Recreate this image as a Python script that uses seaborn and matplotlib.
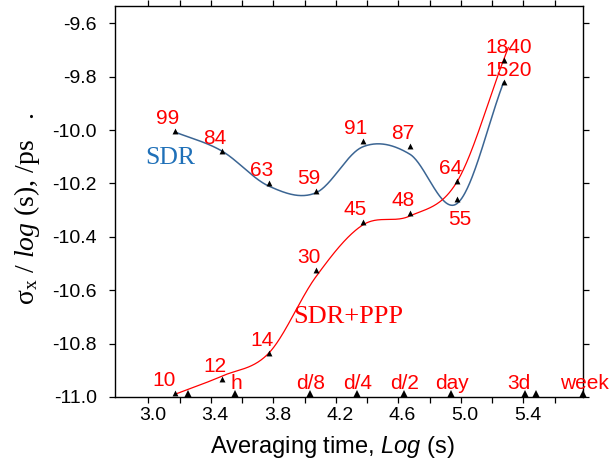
import numpy as np
import pandas as pd
import matplotlib
matplotlib.use("Agg")
import matplotlib.pyplot as plt
import matplotlib.transforms as mtransforms
from matplotlib.ticker import FixedLocator
import seaborn as sns

# ---------------- data ----------------
log_tau = [3.17, 3.47, 3.772, 4.072, 4.371, 4.673, 4.976, 5.274]
# marker (measured) values
sdr_y = [-10.004, -10.078, -10.198, -10.228, -10.040, -10.059, -10.259, -9.820]
ppp_y = [-10.986, -10.931, -10.835, -10.526, -10.344, -10.312, -10.191, -9.736]
# values of the drawn smooth curves at the same averaging times
sdr_curve_y = [-10.007, -10.078, -10.210, -10.235, -10.063, -10.090, -10.275, -9.820]
ppp_curve_y = [-10.990, -10.922, -10.835, -10.550, -10.356, -10.322, -10.193, -9.736]
sdr_n = ["99", "84", "63", "59", "91", "87", "55", "1520"]
ppp_n = ["10", "12", "14", "30", "45", "48", "64", "1840"]
mark_seconds = [1800, 3600, 10800, 21600, 43200, 86400, 259200, 302400, 604800]
mark_labels = ["", "h", "d/8", "d/4", "d/2", "day", "3d", "", "week"]
x_major = [3.0, 3.4, 3.8, 4.2, 4.6, 5.0, 5.4]
x_minor = [3.2, 3.6, 4.0, 4.4, 4.8, 5.2, 5.6]
y_ticks = [-11.0, -10.8, -10.6, -10.4, -10.2, -10.0, -9.8, -9.6]


def catmull_rom(x, y, extend=0.0, n=60):
    """Smooth Hermite curve through the knots (central-difference tangents)."""
    x = np.asarray(x, float)
    y = np.asarray(y, float)
    k = len(x)
    m = np.zeros(k)
    m[0] = (y[1] - y[0]) / (x[1] - x[0])
    m[-1] = (y[-1] - y[-2]) / (x[-1] - x[-2])
    for i in range(1, k - 1):
        m[i] = (y[i + 1] - y[i - 1]) / (x[i + 1] - x[i - 1])
    xs_all, ys_all = [], []
    for i in range(k - 1):
        h = x[i + 1] - x[i]
        t = np.linspace(0, 1, n, endpoint=(i == k - 2))
        h00 = 2 * t ** 3 - 3 * t ** 2 + 1
        h10 = t ** 3 - 2 * t ** 2 + t
        h01 = -2 * t ** 3 + 3 * t ** 2
        h11 = t ** 3 - t ** 2
        xs_all.append(x[i] + t * h)
        ys_all.append(h00 * y[i] + h10 * h * m[i] + h01 * y[i + 1] + h11 * h * m[i + 1])
    xs = np.concatenate(xs_all)
    ys = np.concatenate(ys_all)
    if extend > 0:
        xs = np.append(xs, x[-1] + extend)
        ys = np.append(ys, y[-1] + m[-1] * extend)
    return xs, ys


sns.set_style("ticks")
plt.rcParams["font.family"] = ["Liberation Sans", "DejaVu Sans"]
plt.rcParams["text.color"] = "black"
plt.rcParams["axes.labelcolor"] = "black"
plt.rcParams["xtick.color"] = "black"
plt.rcParams["ytick.color"] = "black"
plt.rcParams["mathtext.fontset"] = "custom"
plt.rcParams["mathtext.rm"] = "Liberation Serif"
plt.rcParams["mathtext.it"] = "Liberation Serif:italic"
plt.rcParams["mathtext.sf"] = "Liberation Sans:italic"

fig = plt.figure(figsize=(6.09, 4.65), dpi=100)
ax = fig.add_axes([115 / 609, 1 - 397 / 465, (583 - 115) / 609, (397 - 6) / 465])

BLUE = "#3b6593"
RED = "#ff0000"

sx, sy = catmull_rom(log_tau, sdr_curve_y)
px, py = catmull_rom(log_tau, ppp_curve_y, extend=0.03)
sns.lineplot(x=sx, y=sy, ax=ax, color=BLUE, linewidth=1.1, sort=False, zorder=2)
sns.lineplot(x=px, y=py, ax=ax, color=RED, linewidth=0.9, sort=False, zorder=2)

sns.scatterplot(x=log_tau, y=sdr_y, ax=ax, marker="^", color="black", s=18,
                linewidth=0, zorder=4)
sns.scatterplot(x=log_tau, y=ppp_y, ax=ax, marker="^", color="black", s=18,
                linewidth=0, zorder=4)

# triangles standing on the time axis (lifted so their base sits on the axis)
mark_x = list(np.log10(mark_seconds))
lift = mtransforms.ScaledTranslation(0, 2.6 / 100, fig.dpi_scale_trans)
ax.plot(mark_x, [-11.0] * len(mark_x), linestyle="none", marker="^",
        markersize=5.2, color="black", markeredgewidth=0, zorder=5,
        clip_on=False, transform=ax.transData + lift)

lab_kw = dict(color=RED, fontsize=15, ha="center", va="center",
              textcoords="offset points", annotation_clip=False)
for xv, yv, t in zip(log_tau, sdr_y, sdr_n):
    if t == "55":
        off = (2, -14.5)
    elif t == "1520":
        off = (3.6, 8.5)
    else:
        off = (-5, 9)
    ax.annotate(t, (xv, yv), xytext=off, **lab_kw)
for xv, yv, t in zip(log_tau, ppp_y, ppp_n):
    if t == "10":
        off = (-8, 9)
    elif t == "1840":
        off = (3.6, 9)
    else:
        off = (-5, 9)
    ax.annotate(t, (xv, yv), xytext=off, **lab_kw)

for xv, t in zip(mark_x, mark_labels):
    if not t:
        continue
    dxo = -4.5 if t == "3d" else (1.2 if t == "week" else 0.5)
    ax.annotate(t, (xv, -11.0), xytext=(dxo, 6), color=RED, fontsize=15,
                ha="center", va="baseline", textcoords="offset points",
                annotation_clip=False)

ax.text(3.141, -10.105, "SDR", color="#1f70b8", fontsize=18.5,
        family="Liberation Serif", ha="center", va="center")
ax.text(4.277, -10.699, "SDR+PPP", color=RED, fontsize=19,
        family="Liberation Serif", ha="center", va="center")

ax.set_xlim(2.787, np.log10(604800))
ax.set_ylim(-11.0, -9.535)
ax.xaxis.set_major_locator(FixedLocator(x_major))
ax.xaxis.set_minor_locator(FixedLocator(x_minor))
ax.set_xticklabels([f"{v:.1f}" for v in x_major])
ax.yaxis.set_major_locator(FixedLocator(y_ticks))
ax.set_yticklabels([f"{v:.1f}" for v in y_ticks])

for s in ax.spines.values():
    s.set_visible(True)
    s.set_linewidth(1.0)
    s.set_color("black")
ax.tick_params(axis="both", which="both", direction="out", length=4,
               width=0.9, color="black", top=True, right=True,
               labeltop=False, labelright=False, labelsize=14,
               labelcolor="black")
ax.tick_params(axis="x", which="both", pad=3)
ax.tick_params(axis="y", which="both", pad=9)

shift = mtransforms.ScaledTranslation(4 / 100, 0, fig.dpi_scale_trans)
for lab in ax.get_xticklabels():
    lab.set_transform(lab.get_transform() + shift)

ax.set_xlabel(r"Averaging time, $\mathsf{Log}$ (s)", fontsize=17, color="black")
ax.xaxis.set_label_coords((332 - 115) / 468, (397 - 446.5) / 391)
ax.xaxis.label.set_va("center")

fig.text(27 / 609, 1 - 208 / 465,
         r"$\mathregular{σ_x}$ / $\mathit{log}$ (s), /ps   .",
         rotation=90, ha="center", va="center", fontsize=20,
         family="Liberation Serif", color="black")

fig.savefig("out.png", dpi=100)
